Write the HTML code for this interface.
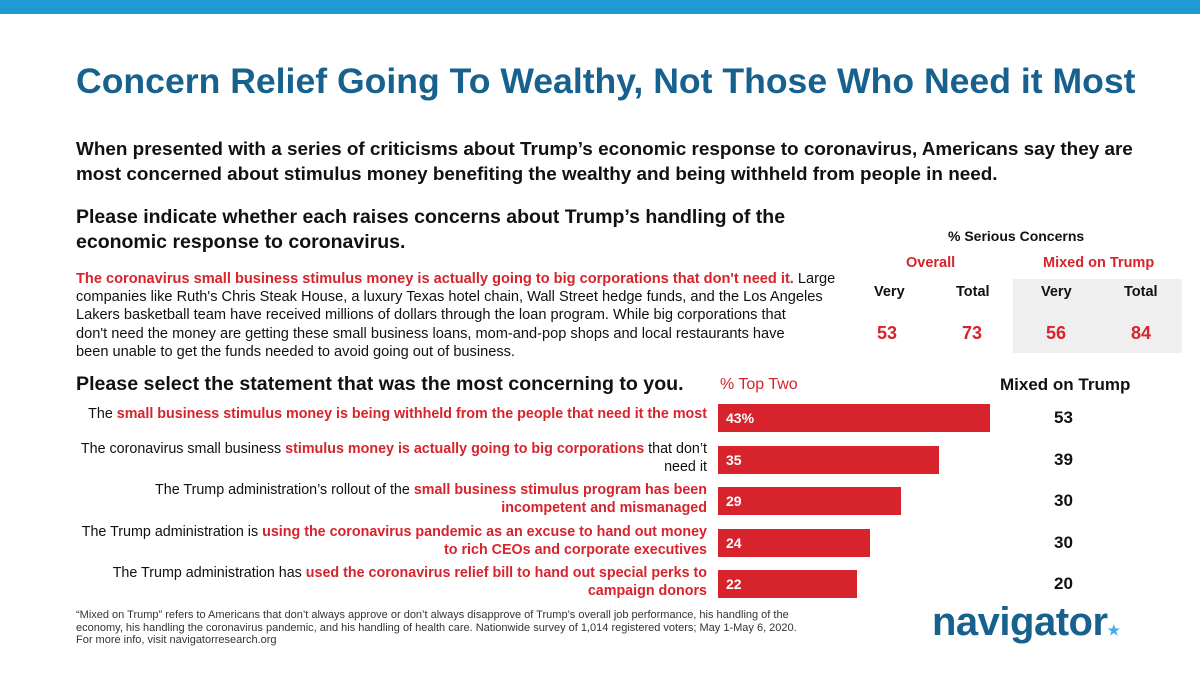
<!DOCTYPE html>
<html><head><meta charset="utf-8"><style>
body{margin:0;width:1200px;height:674px;background:#fff;position:relative;overflow:hidden;font-family:"Liberation Sans",Arial,sans-serif;color:#111}
.a{position:absolute;white-space:nowrap}
.r{color:#d7232b}
.b{font-weight:bold}
</style></head><body>
<div class="a" style="left:0;top:0;width:1200px;height:14px;background:#1f9ad3"></div>
<div class="a b" style="left:76px;top:61px;font-size:35.6px;color:#17618f">Concern Relief Going To Wealthy, Not Those Who Need it Most</div>
<div class="a b" style="left:76px;top:137px;font-size:18.9px;line-height:25px">When presented with a series of criticisms about Trump’s economic response to coronavirus, Americans say they are<br>most concerned about stimulus money benefiting the wealthy and being withheld from people in need.</div>
<div class="a b" style="left:76px;top:205px;font-size:19.5px;line-height:25px">Please indicate whether each raises concerns about Trump’s handling of the<br>economic response to coronavirus.</div>
<div class="a" style="left:76px;top:270px;font-size:14.6px;line-height:18.2px"><span class="r b">The coronavirus small business stimulus money is actually going to big corporations that don't need it.</span> Large<br>companies like Ruth's Chris Steak House, a luxury Texas hotel chain, Wall Street hedge funds, and the Los Angeles<br>Lakers basketball team have received millions of dollars through the loan program. While big corporations that<br>don't need the money are getting these small business loans, mom-and-pop shops and local restaurants have<br>been unable to get the funds needed to avoid going out of business.</div>
<div class="a" style="left:1013px;top:279px;width:169px;height:74px;background:#efefef"></div>
<div class="a b" style="left:948px;top:228px;font-size:14px">% Serious Concerns</div>
<div class="a b r" style="left:906px;top:255px;font-size:14.5px">Overall</div>
<div class="a b r" style="left:1043px;top:255px;font-size:14.5px">Mixed on Trump</div>
<div class="a b" style="left:874px;top:284px;font-size:14.5px">Very</div>
<div class="a b" style="left:956px;top:284px;font-size:14.5px">Total</div>
<div class="a b" style="left:1041px;top:284px;font-size:14.5px">Very</div>
<div class="a b" style="left:1124px;top:284px;font-size:14.5px">Total</div>
<div class="a b r" style="left:877px;top:323px;font-size:18px">53</div>
<div class="a b r" style="left:962px;top:323px;font-size:18px">73</div>
<div class="a b r" style="left:1046px;top:323px;font-size:18px">56</div>
<div class="a b r" style="left:1131px;top:323px;font-size:18px">84</div>
<div class="a b" style="left:76px;top:373px;font-size:19.6px">Please select the statement that was the most concerning to you.</div>
<div class="a r" style="left:720px;top:376px;font-size:16px">% Top Two</div>
<div class="a" style="left:1000px;top:375px;font-size:17px;font-weight:600">Mixed on Trump</div>
<div id="chart"></div>
<div class="a" style="left:76px;top:609px;font-size:11px;line-height:12.5px;color:#333">“Mixed on Trump” refers to Americans that don’t always approve or don’t always disapprove of Trump’s overall job performance, his handling of the<br>economy, his handling the coronavirus pandemic, and his handling of health care. Nationwide survey of 1,014 registered voters; May 1-May 6, 2020.<br>For more info, visit navigatorresearch.org</div>
<div class="a b" style="left:932px;top:600px;font-size:40px;color:#17618f;letter-spacing:-0.5px">navigator<span style="color:#3fb0e6;font-size:14px">★</span></div>
<script>
const labels=[
 'The <span class="r b">small business stimulus money is being withheld from the people that need it the most</span>',
 'The coronavirus small business <span class="r b">stimulus money is actually going to big corporations</span> that don’t<br>need it',
 'The Trump administration’s rollout of the <span class="r b">small business stimulus program has been<br>incompetent and mismanaged</span>',
 'The Trump administration is <span class="r b">using the coronavirus pandemic as an excuse to hand out money<br>to rich CEOs and corporate executives</span>',
 'The Trump administration has <span class="r b">used the coronavirus relief bill to hand out special perks to<br>campaign donors</span>'];
const topTwo=[43,35,29,24,22];
const mixed=[53,39,30,30,20];
const x0=718, scale=272/43, y0=404, step=41.5, bh=28;
const c=document.getElementById('chart');
topTwo.forEach((v,i)=>{
 const y=y0+i*step;
 const bar=document.createElement('div');
 bar.className='a';
 
 
 bar.style.cssText=`left:${x0}px;top:${y}px;width:${v*scale}px;height:${bh}px;background:#d7232b;color:#fff;font-weight:bold;font-size:14px;line-height:${bh}px;padding-left:8px;box-sizing:border-box`;
 bar.textContent=i===0?v+'%':v;
 c.appendChild(bar);
 const lab=document.createElement('div');
 lab.className='a';
 
 
 const two=labels[i].includes('<br>');
 lab.style.cssText=`right:${1200-707}px;top:${two?y-6:y+1}px;font-size:14.3px;line-height:18px;text-align:right`;
 lab.innerHTML=labels[i];
 c.appendChild(lab);
 const m=document.createElement('div');
 m.className='a';
 
 
 m.style.cssText=`left:1054px;top:${y+4}px;font-size:17px;font-weight:bold`;
 m.textContent=mixed[i];
 c.appendChild(m);
});
</script>
</body></html>
